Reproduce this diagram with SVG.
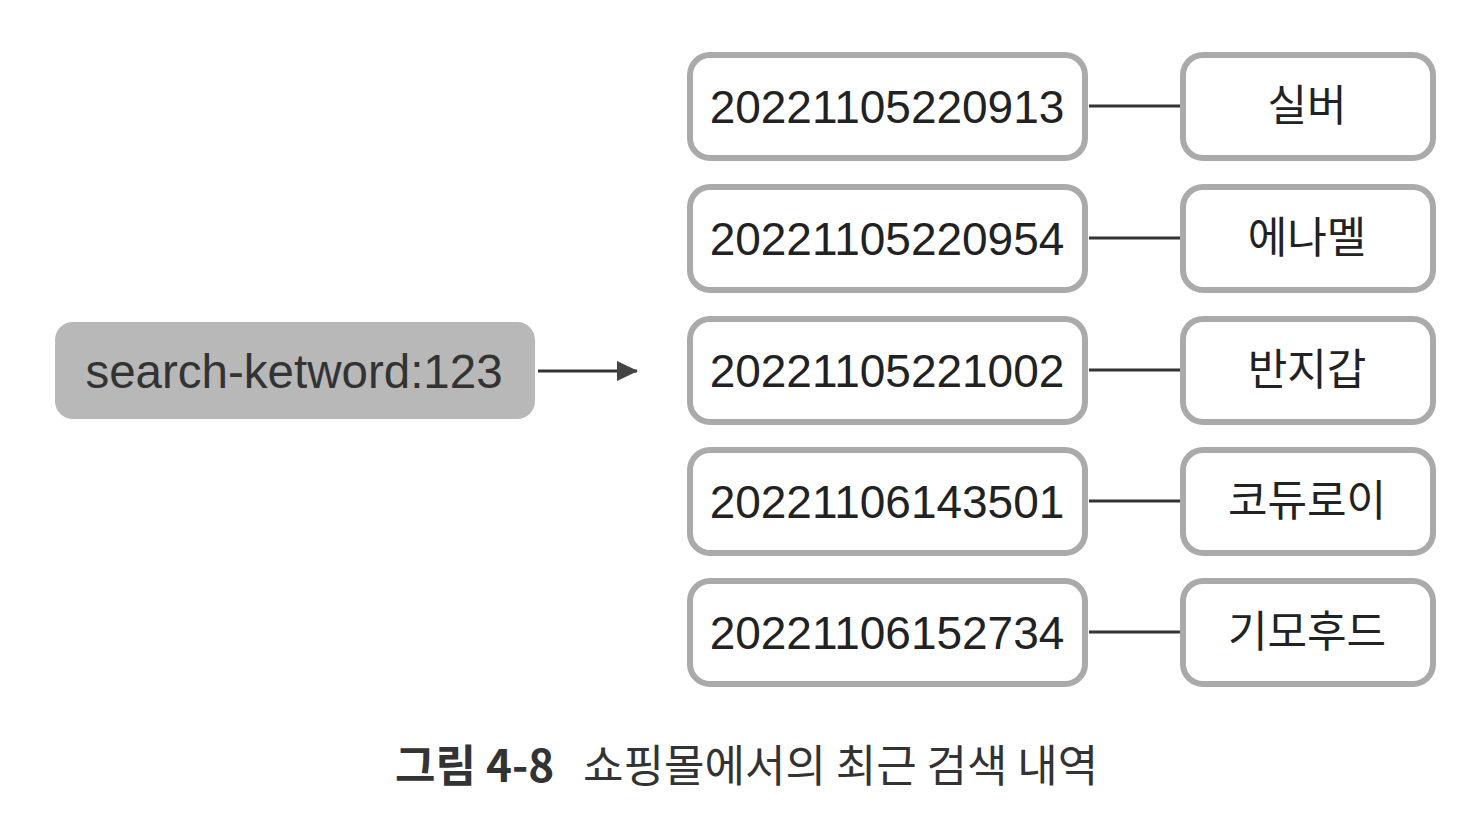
<svg xmlns="http://www.w3.org/2000/svg" width="1482" height="830" viewBox="0 0 1482 830">
<style>
.box{fill:#ffffff;stroke:#aaaaaa;stroke-width:6}
.num{font-family:"Liberation Sans",Arial,sans-serif;font-size:46px;fill:#222222;text-anchor:middle}
.ko{font-family:"Noto Sans CJK KR","Noto Sans",sans-serif;font-size:43px;fill:#222222;text-anchor:middle}
.conn{stroke:#333333;stroke-width:3;fill:none}
.cap{font-family:"Noto Sans CJK KR",sans-serif;font-size:44px;fill:#333333}
</style>
<defs>
<marker id="arr" markerWidth="22" markerHeight="22" refX="21" refY="11" orient="auto" markerUnits="userSpaceOnUse" viewBox="0 0 22 22">
<path d="M1,1 L22,11 L1,21 z" fill="#444444"/>
</marker>
</defs>
<rect width="1482" height="830" fill="#ffffff"/>
<g id="source">
<rect x="55" y="322" width="480" height="97" rx="18" fill="#b8b8b8"/>
<text x="294" y="388" font-family="'Liberation Sans',Arial,sans-serif" font-size="47.5" fill="#333333" text-anchor="middle">search-ketword:123</text>
</g>
<g id="k1"><rect class="box" x="690" y="55" width="395" height="103" rx="20"/><text class="num" x="887" y="123">20221105220913</text></g>
<g id="v1"><rect class="box" x="1183" y="55" width="250" height="103" rx="20"/><text class="ko" x="1307" y="121">실버</text></g>
<g id="k2"><rect class="box" x="690" y="187" width="395" height="103" rx="20"/><text class="num" x="887" y="255">20221105220954</text></g>
<g id="v2"><rect class="box" x="1183" y="187" width="250" height="103" rx="20"/><text class="ko" x="1307" y="253">에나멜</text></g>
<g id="k3"><rect class="box" x="690" y="319" width="395" height="103" rx="20"/><text class="num" x="887" y="387">20221105221002</text></g>
<g id="v3"><rect class="box" x="1183" y="319" width="250" height="103" rx="20"/><text class="ko" x="1307" y="385">반지갑</text></g>
<g id="k4"><rect class="box" x="690" y="450" width="395" height="103" rx="20"/><text class="num" x="887" y="518">20221106143501</text></g>
<g id="v4"><rect class="box" x="1183" y="450" width="250" height="103" rx="20"/><text class="ko" x="1307" y="516">코듀로이</text></g>
<g id="k5"><rect class="box" x="690" y="581" width="395" height="103" rx="20"/><text class="num" x="887" y="649">20221106152734</text></g>
<g id="v5"><rect class="box" x="1183" y="581" width="250" height="103" rx="20"/><text class="ko" x="1307" y="647">기모후드</text></g>
<g id="connectors">
<line class="conn" x1="538" y1="371" x2="637" y2="371" marker-end="url(#arr)" stroke="#444444"/>
<line class="conn" x1="1089" y1="106" x2="1180" y2="106"/>
<line class="conn" x1="1089" y1="238" x2="1180" y2="238"/>
<line class="conn" x1="1089" y1="370" x2="1180" y2="370"/>
<line class="conn" x1="1089" y1="501" x2="1180" y2="501"/>
<line class="conn" x1="1089" y1="632" x2="1180" y2="632"/>
</g>
<g id="caption">
<text class="cap" x="395" y="782" font-weight="bold">그림 4-8</text>
<text class="cap" x="583" y="782">쇼핑몰에서의 최근 검색 내역</text>
</g>
</svg>
